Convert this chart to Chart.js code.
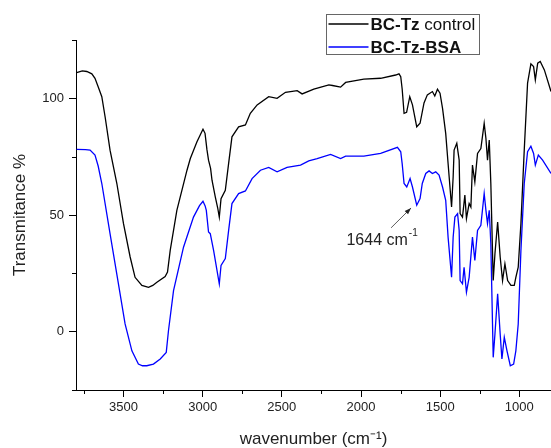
<!DOCTYPE html>
<html>
<head>
<meta charset="utf-8">
<script src="https://cdn.jsdelivr.net/npm/chart.js@4.4.0/dist/chart.umd.min.js"></script>
<style>
  html, body { margin: 0; padding: 0; background: #fff; }
  #ftir { display: block; }
</style>
</head>
<body>
<canvas id="ftir" width="551" height="448"></canvas>
<script>
// wavenumbers (cm-1) and transmittance
const controlWn = [3796, 3760, 3732, 3700, 3680, 3660, 3637, 3616, 3585, 3542, 3500, 3458, 3427, 3384, 3342, 3315, 3289, 3237, 3222, 3205, 3163, 3099, 3078, 3036, 2998, 2985, 2973, 2963, 2950, 2941, 2920, 2905, 2895, 2884, 2857, 2836, 2815, 2773, 2730, 2699, 2656, 2583, 2530, 2477, 2403, 2372, 2298, 2203, 2180, 2129, 2097, 1982, 1876, 1781, 1760, 1749, 1740, 1728, 1712, 1692, 1675, 1648, 1627, 1602, 1581, 1549, 1534, 1517, 1501, 1485, 1465, 1450, 1428, 1418, 1412, 1395, 1380, 1374, 1359, 1344, 1334, 1317, 1306, 1296, 1281, 1264, 1243, 1222, 1211, 1201, 1190, 1180, 1165, 1154, 1137, 1121, 1106, 1091, 1074, 1053, 1032, 1022, 1007, 990, 969, 948, 927, 910, 899, 884, 868, 842, 800];
const controlT = [111, 111.8, 111.5, 110.5, 108.6, 105, 100.7, 92, 77.8, 63.5, 46.3, 32, 23.3, 19.8, 19, 19.8, 21.2, 23.6, 25.5, 34.8, 52, 69.2, 74.2, 81.4, 86.8, 85, 78, 73.5, 70, 64.9, 57.7, 53, 49.1, 57, 60.6, 72.1, 83.5, 87.8, 88.6, 93.6, 97.2, 100.7, 100, 102.6, 103.3, 101.9, 103.9, 105.8, 105.5, 104.8, 106.8, 108.2, 108.6, 110, 110.5, 109.3, 104, 93.6, 94, 100.7, 97.2, 87.8, 89.3, 98, 101.5, 102.9, 101, 103.9, 102.2, 95.7, 85, 72.1, 53.4, 66.3, 77.8, 80.7, 73.5, 50.6, 49.1, 58.5, 48.5, 54.9, 53.4, 71.4, 64.2, 76.4, 78.5, 89.3, 82.8, 73.5, 82.1, 63.5, 21.9, 33.4, 47, 32, 21.9, 29.1, 21.9, 19.8, 19.8, 23.3, 27.6, 46.3, 77.8, 106.5, 114.8, 113.6, 107.9, 115.1, 115.8, 112.2, 102.9];

const bsaWn = [3796, 3740, 3711, 3680, 3660, 3637, 3585, 3532, 3490, 3447, 3406, 3380, 3353, 3311, 3268, 3230, 3216, 3184, 3121, 3058, 3020, 2998, 2985, 2977, 2963, 2952, 2931, 2895, 2884, 2857, 2836, 2815, 2773, 2730, 2688, 2635, 2583, 2530, 2467, 2382, 2330, 2277, 2192, 2129, 2097, 1982, 1876, 1770, 1749, 1740, 1728, 1711, 1690, 1675, 1648, 1627, 1613, 1591, 1570, 1549, 1528, 1507, 1485, 1465, 1450, 1428, 1418, 1407, 1390, 1380, 1374, 1359, 1349, 1334, 1317, 1296, 1281, 1264, 1243, 1222, 1211, 1201, 1190, 1180, 1165, 1154, 1137, 1121, 1110, 1095, 1078, 1057, 1036, 1022, 1007, 990, 969, 948, 927, 910, 899, 880, 853, 800];
const bsaT = [78.1, 78, 77.8, 75.7, 71, 63.5, 42, 20.5, 3.3, -8.2, -13.9, -14.6, -14.6, -13.9, -11.7, -8.9, 0.4, 17.6, 36.2, 49.1, 54, 55.9, 54, 52, 42.7, 42, 34.8, 20.5, 28.4, 31.3, 43.4, 54.9, 59.2, 60.3, 65.6, 69.2, 70.4, 68.5, 70.4, 71.4, 73.2, 74.2, 76, 74.2, 75.2, 75.2, 76.4, 79, 77.1, 72, 63.5, 62, 65.6, 62, 54.2, 57, 63.5, 67.8, 68.9, 67.8, 68.5, 67.1, 62, 56.3, 40.5, 23.3, 40.5, 49.1, 50.6, 43.4, 21.9, 20.5, 27.6, 16.9, 23.3, 40.5, 30.5, 43.4, 45.6, 59.2, 52, 46.3, 52, 37.7, -11, -1, 16.2, -1, -11.7, -2.4, -8.2, -14.6, -13.9, -8.2, 3.3, 34.8, 63.5, 77.1, 79.5, 76.4, 71.4, 75.7, 73.5, 67.8];

const xMajorTicks = [1000, 1500, 2000, 2500, 3000, 3500];
const xMinorTicks = [1250, 1750, 2250, 2750, 3250, 3750];
const yMajorTicks = [0, 50, 100];
const yMinorTicks = [-25, 25, 75, 125];

// arrow for the amide band label
const peakLabel = { text: '1644 cm', sup: '-1', x: 1870, y: 39 };
const arrowFrom = { x: 1810, y: 44.5 };
const arrowTo = { x: 1684, y: 53 };

const fontFamily = '"Liberation Sans", Arial, sans-serif';
Chart.defaults.font.family = fontFamily;
Chart.defaults.color = '#222';

function toPoints(xs, ys) {
    return xs.map((x, i) => ({ x: x, y: ys[i] }));
}

// minor ticks, legend box and peak arrow are drawn by hand
const extrasPlugin = {
    id: 'extras',
    afterDraw(chart) {
        const ctx = chart.ctx;
        const xs = chart.scales.x;
        const ys = chart.scales.y;
        const area = chart.chartArea;

        ctx.save();
        ctx.strokeStyle = '#000';
        ctx.lineWidth = 1;
        xMinorTicks.forEach(v => {
            const px = Math.round(xs.getPixelForValue(v)) + 0.5;
            ctx.beginPath();
            ctx.moveTo(px, area.bottom);
            ctx.lineTo(px, area.bottom + 4);
            ctx.stroke();
        });
        yMinorTicks.forEach(v => {
            const py = Math.round(ys.getPixelForValue(v)) + 0.5;
            ctx.beginPath();
            ctx.moveTo(area.left - 4, py);
            ctx.lineTo(area.left, py);
            ctx.stroke();
        });

        // arrow
        const ax0 = xs.getPixelForValue(arrowFrom.x), ay0 = ys.getPixelForValue(arrowFrom.y);
        const ax1 = xs.getPixelForValue(arrowTo.x), ay1 = ys.getPixelForValue(arrowTo.y);
        ctx.strokeStyle = '#333';
        ctx.lineWidth = 0.8;
        ctx.beginPath();
        ctx.moveTo(ax0, ay0);
        ctx.lineTo(ax1, ay1);
        ctx.stroke();
        const ang = Math.atan2(ay1 - ay0, ax1 - ax0);
        ctx.fillStyle = '#222';
        ctx.beginPath();
        ctx.moveTo(ax1, ay1);
        ctx.lineTo(ax1 - 7 * Math.cos(ang - 0.35), ay1 - 7 * Math.sin(ang - 0.35));
        ctx.lineTo(ax1 - 7 * Math.cos(ang + 0.35), ay1 - 7 * Math.sin(ang + 0.35));
        ctx.closePath();
        ctx.fill();

        // peak label with superscript
        ctx.fillStyle = '#222';
        ctx.font = '16px ' + fontFamily;
        const mainW = ctx.measureText(peakLabel.text).width;
        ctx.font = '10px ' + fontFamily;
        const supW = ctx.measureText(peakLabel.sup).width;
        const lx = xs.getPixelForValue(peakLabel.x) - (mainW + supW) / 2;
        const ly = ys.getPixelForValue(peakLabel.y);
        ctx.textBaseline = 'middle';
        ctx.textAlign = 'left';
        ctx.font = '16px ' + fontFamily;
        ctx.fillText(peakLabel.text, lx, ly);
        ctx.font = '10px ' + fontFamily;
        ctx.fillText(peakLabel.sup, lx + mainW + 1, ly - 7);

        // legend
        const bx = 326.5, by = 14.5, bw = 153, bh = 40;
        ctx.strokeStyle = '#666';
        ctx.lineWidth = 1;
        ctx.strokeRect(bx, by, bw, bh);
        const rows = [
            { color: chart.data.datasets[0].borderColor, bold: 'BC-Tz', rest: ' control', y: by + 9.5 },
            { color: chart.data.datasets[1].borderColor, bold: 'BC-Tz-BSA', rest: '', y: by + 32.5 }
        ];
        rows.forEach(r => {
            ctx.strokeStyle = r.color;
            ctx.lineWidth = 1.3;
            ctx.beginPath();
            ctx.moveTo(bx + 2, r.y);
            ctx.lineTo(bx + 42, r.y);
            ctx.stroke();
            ctx.fillStyle = '#111';
            ctx.font = 'bold 17px ' + fontFamily;
            ctx.fillText(r.bold, bx + 44, r.y + 1);
            const w = ctx.measureText(r.bold).width;
            ctx.font = '17px ' + fontFamily;
            ctx.fillText(r.rest, bx + 44 + w, r.y + 1);
        });
        ctx.restore();
    }
};

new Chart(document.getElementById('ftir'), {
    type: 'line',
    data: {
        datasets: [{
            label: 'BC-Tz control',
            data: toPoints(controlWn, controlT),
            borderColor: '#000000',
            borderWidth: 1.3,
            pointRadius: 0,
            tension: 0,
            fill: false
        }, {
            label: 'BC-Tz-BSA',
            data: toPoints(bsaWn, bsaT),
            borderColor: '#0000ff',
            borderWidth: 1.3,
            pointRadius: 0,
            tension: 0,
            fill: false
        }]
    },
    options: {
        responsive: false,
        animation: false,
        devicePixelRatio: 1,
        layout: { padding: { top: 40, right: 0, left: 0, bottom: 0 } },
        plugins: {
            legend: { display: false },
            tooltip: { enabled: false }
        },
        scales: {
            x: {
                type: 'linear',
                reverse: true,
                min: 800,
                max: 3800,
                afterBuildTicks: (scale) => {
                    scale.ticks = xMajorTicks.map(v => ({ value: v }));
                },
                afterFit: (scale) => { scale.height = 58; },
                grid: { drawOnChartArea: false, tickLength: 7, color: '#000' },
                border: { display: true, color: '#000', width: 1 },
                ticks: {
                    font: { size: 13 },
                    padding: 3,
                    maxRotation: 0,
                    color: '#222',
                    callback: (v) => String(v)
                },
                title: {
                    display: true,
                    text: 'wavenumber (cm\u207B\u00B9)',
                    font: { size: 17, lineHeight: 1 },
                    color: '#222',
                    padding: { top: 6, bottom: 0 }
                }
            },
            y: {
                min: -25,
                max: 125,
                afterBuildTicks: (scale) => {
                    scale.ticks = yMajorTicks.map(v => ({ value: v }));
                },
                afterFit: (scale) => { scale.width = 76; },
                grid: { drawOnChartArea: false, tickLength: 7, color: '#000' },
                border: { display: true, color: '#000', width: 1 },
                ticks: { font: { size: 13 }, padding: 5, color: '#222', callback: (v) => String(v) },
                title: {
                    display: true,
                    text: 'Transmitance %',
                    font: { size: 17 },
                    color: '#222',
                    padding: { top: 10, bottom: 0 }
                }
            }
        }
    },
    plugins: [extrasPlugin]
});
</script>
</body>
</html>
